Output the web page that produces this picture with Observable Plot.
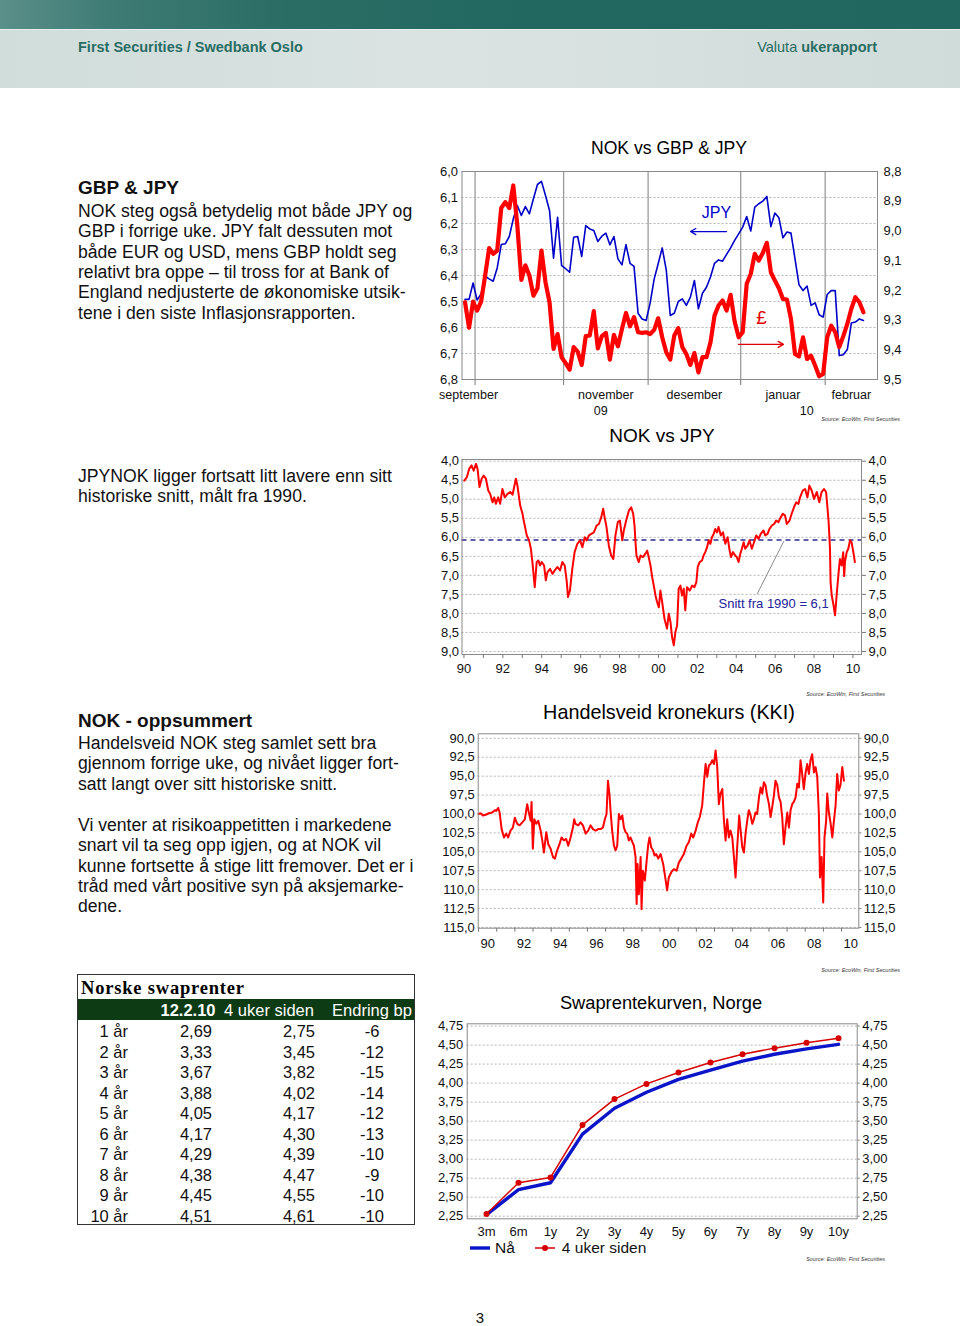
<!DOCTYPE html>
<html><head><meta charset="utf-8">
<script src="https://cdn.jsdelivr.net/npm/d3@7"></script>
<script src="https://cdn.jsdelivr.net/npm/@observablehq/plot@0.6"></script>
<style>
html,body{margin:0;padding:0}
body{width:960px;height:1326px;position:relative;background:#fff;overflow:hidden;font-family:"Liberation Sans",Arial,Helvetica,sans-serif;color:#111}
.t{position:absolute;white-space:pre}
</style></head><body>
<script>
// ---------- DATA ----------
// Chart 1: NOK vs GBP & JPY, business days 28.9.2009 - 12.2.2010
const jpyNok = [6.492,6.492,6.429,6.494,6.471,6.403,6.413,6.422,6.371,6.281,
 6.278,6.250,6.182,6.131,6.169,6.135,6.163,6.105,6.050,6.038,
 6.092,6.150,6.333,6.176,6.362,6.374,6.387,6.253,6.250,6.327,
 6.208,6.221,6.227,6.269,6.249,6.237,6.282,6.250,6.336,6.359,
 6.281,6.353,6.365,6.545,6.567,6.573,6.506,6.414,6.355,6.294,
 6.378,6.554,6.545,6.500,6.490,6.515,6.483,6.419,6.528,6.468,
 6.445,6.406,6.353,6.340,6.345,6.319,6.294,6.265,6.240,6.214,
 6.173,6.229,6.137,6.124,6.114,6.096,6.212,6.160,6.178,6.255,
 6.233,6.237,6.336,6.436,6.458,6.441,6.515,6.505,6.551,6.560,
 6.473,6.458,6.458,6.708,6.705,6.685,6.583,6.579,6.567,6.573];
const gbpNok = [9.240,9.326,9.238,9.268,9.238,9.150,9.058,9.077,9.066,8.923,
 8.903,8.923,8.847,8.982,9.165,9.116,9.150,9.218,9.193,9.066,
 9.173,9.240,9.397,9.347,9.425,9.445,9.467,9.391,9.406,9.451,
 9.354,9.352,9.270,9.395,9.354,9.343,9.433,9.350,9.388,9.330,
 9.276,9.321,9.290,9.341,9.343,9.341,9.347,9.333,9.294,9.358,
 9.408,9.433,9.352,9.327,9.391,9.414,9.451,9.411,9.476,9.425,
 9.425,9.375,9.285,9.251,9.234,9.268,9.215,9.305,9.358,9.341,
 9.178,9.145,9.077,9.100,9.074,9.040,9.139,9.167,9.193,9.229,
 9.231,9.296,9.414,9.422,9.358,9.431,9.420,9.453,9.489,9.481,
 9.358,9.319,9.341,9.391,9.354,9.313,9.262,9.223,9.240,9.274];
const leftTicks1 = [6.0,6.1,6.2,6.3,6.4,6.5,6.6,6.7,6.8];
const rightTicks1 = [8.8,8.9,9.0,9.1,9.2,9.3,9.4,9.5];
const monthNames = ["september","","november","desember","januar","februar"];
const monthBounds = [2.5,24.5,45.5,68.5,89.5];
const yearNames1 = ["09","10"];
const yearTicks1 = [33.7,84.9];

// Chart 2: NOK vs JPY (per 100 JPY) 1990-2010
const nokJpy = [[1990.02,4.51],[1990.15,4.42],[1990.27,4.20],[1990.39,4.11],[1990.50,4.25],[1990.62,4.07],[1990.70,4.20],[1990.80,4.68],[1990.91,4.46],[1991.01,4.38],[1991.13,4.46],[1991.25,4.77],[1991.35,4.86],[1991.47,5.08],[1991.56,4.95],[1991.64,5.12],[1991.76,4.95],[1991.86,5.12],[1991.98,4.73],[1992.10,4.95],[1992.24,4.86],[1992.38,4.81],[1992.50,4.88],[1992.67,4.46],[1992.75,4.64],[1992.89,5.16],[1993.01,5.38],[1993.09,5.60],[1993.23,5.95],[1993.35,6.08],[1993.44,6.30],[1993.52,6.65],[1993.64,7.31],[1993.74,6.65],[1993.83,6.61],[1993.91,6.74],[1994.00,6.65],[1994.12,6.74],[1994.21,7.13],[1994.29,6.92],[1994.43,6.83],[1994.55,6.96],[1994.67,6.87],[1994.80,6.78],[1994.94,6.87],[1995.06,6.65],[1995.18,6.74],[1995.28,7.13],[1995.35,7.57],[1995.45,7.40],[1995.57,6.83],[1995.69,6.39],[1995.83,6.17],[1995.97,6.08],[1996.09,6.26],[1996.21,6.00],[1996.31,6.08],[1996.43,5.95],[1996.55,5.91],[1996.68,5.87],[1996.82,5.69],[1996.94,5.65],[1997.06,5.47],[1997.16,5.25],[1997.23,5.47],[1997.33,5.73],[1997.45,6.22],[1997.57,6.48],[1997.68,6.57],[1997.79,5.95],[1997.91,5.60],[1998.02,5.56],[1998.14,6.08],[1998.22,5.82],[1998.34,5.56],[1998.48,5.30],[1998.60,5.21],[1998.70,5.38],[1998.77,5.69],[1998.82,6.13],[1998.87,6.48],[1998.99,6.65],[1999.08,6.48],[1999.21,6.52],[1999.33,6.43],[1999.42,6.35],[1999.50,6.52],[1999.59,6.74],[1999.68,7.05],[1999.76,7.27],[1999.85,7.53],[1999.93,7.70],[2000.02,7.84],[2000.10,7.40],[2000.19,7.70],[2000.31,8.14],[2000.44,8.40],[2000.53,8.01],[2000.62,8.23],[2000.70,8.62],[2000.79,8.84],[2000.87,8.49],[2000.96,8.32],[2001.04,7.35],[2001.13,7.27],[2001.21,7.53],[2001.30,7.35],[2001.38,7.92],[2001.47,7.31],[2001.61,7.40],[2001.73,7.27],[2001.85,7.31],[2001.95,7.18],[2002.02,6.78],[2002.12,6.65],[2002.24,6.61],[2002.32,6.48],[2002.41,6.39],[2002.50,6.26],[2002.58,6.08],[2002.67,6.17],[2002.75,6.00],[2002.84,5.91],[2002.92,5.78],[2003.01,5.87],[2003.09,5.73],[2003.21,5.95],[2003.32,5.87],[2003.44,6.17],[2003.56,6.00],[2003.66,6.35],[2003.73,6.52],[2003.83,6.39],[2003.95,6.48],[2004.03,6.52],[2004.12,6.65],[2004.21,6.43],[2004.29,6.30],[2004.38,6.13],[2004.46,6.30],[2004.58,6.22],[2004.68,6.08],[2004.80,6.30],[2004.89,6.17],[2005.03,5.95],[2005.15,6.04],[2005.26,5.91],[2005.40,5.82],[2005.49,5.95],[2005.61,5.91],[2005.71,5.78],[2005.83,5.69],[2005.95,5.65],[2006.05,5.56],[2006.17,5.60],[2006.29,5.47],[2006.39,5.38],[2006.51,5.43],[2006.60,5.65],[2006.74,5.56],[2006.85,5.38],[2006.97,5.21],[2007.08,5.08],[2007.20,5.12],[2007.28,4.95],[2007.42,4.77],[2007.54,4.73],[2007.66,4.95],[2007.76,4.64],[2007.88,4.77],[2008.00,4.99],[2008.14,4.81],[2008.27,5.08],[2008.39,4.81],[2008.51,4.73],[2008.62,4.81],[2008.68,5.16],[2008.75,5.60],[2008.82,6.30],[2008.85,7.18],[2008.91,7.53],[2008.99,7.75],[2009.08,8.05],[2009.16,7.53],[2009.25,7.00],[2009.33,6.57],[2009.42,6.74],[2009.50,6.39],[2009.55,7.02],[2009.59,6.65],[2009.68,6.39],[2009.76,6.30],[2009.85,6.08],[2009.93,6.13],[2010.02,6.39],[2010.10,6.65]];
const nokJpyAvg = 6.07;
const ticks2 = [4.0,4.5,5.0,5.5,6.0,6.5,7.0,7.5,8.0,8.5,9.0];
const years = d3.range(1990, 2011);

// Chart 3: Handelsveid kronekurs (KKI)
const kki = [[1990.00,100.0],[1990.11,99.9],[1990.24,100.2],[1990.39,100.1],[1990.57,99.9],[1990.75,99.8],[1990.90,99.5],[1990.97,99.6],[1991.08,99.2],[1991.16,99.8],[1991.27,102.0],[1991.40,103.1],[1991.52,102.6],[1991.63,103.1],[1991.76,102.2],[1991.89,101.8],[1992.00,100.5],[1992.13,101.3],[1992.26,101.5],[1992.41,101.1],[1992.55,100.7],[1992.68,98.7],[1992.77,99.8],[1992.87,100.9],[1992.92,98.4],[1992.99,104.6],[1993.07,100.7],[1993.18,101.3],[1993.29,100.9],[1993.42,102.2],[1993.51,103.5],[1993.60,105.1],[1993.73,102.4],[1993.84,104.0],[1993.97,104.6],[1994.10,105.7],[1994.21,105.9],[1994.33,104.8],[1994.46,104.0],[1994.57,103.1],[1994.70,103.5],[1994.83,103.3],[1994.94,104.2],[1995.07,103.1],[1995.20,101.8],[1995.27,100.7],[1995.34,101.3],[1995.49,101.5],[1995.62,101.1],[1995.75,101.5],[1995.90,102.6],[1996.04,102.2],[1996.17,101.5],[1996.30,102.0],[1996.45,102.2],[1996.59,102.0],[1996.72,102.0],[1996.85,101.8],[1996.96,100.7],[1997.05,100.0],[1997.13,95.6],[1997.22,97.6],[1997.27,99.5],[1997.36,102.2],[1997.46,104.2],[1997.55,104.8],[1997.64,104.2],[1997.73,100.0],[1997.82,100.7],[1997.92,100.2],[1998.01,101.8],[1998.10,102.4],[1998.19,102.6],[1998.28,103.5],[1998.37,103.1],[1998.47,103.7],[1998.56,104.2],[1998.65,105.7],[1998.71,111.9],[1998.76,106.6],[1998.83,110.6],[1998.93,105.7],[1998.98,112.6],[1999.05,107.5],[1999.16,108.8],[1999.26,106.2],[1999.35,104.0],[1999.42,103.1],[1999.51,104.4],[1999.61,104.8],[1999.70,105.5],[1999.79,105.3],[1999.90,105.9],[2000.03,105.3],[2000.17,106.6],[2000.30,108.6],[2000.39,110.1],[2000.48,108.4],[2000.62,107.7],[2000.76,107.3],[2000.91,107.5],[2001.04,106.4],[2001.17,105.9],[2001.31,105.3],[2001.46,104.2],[2001.59,103.7],[2001.72,102.6],[2001.83,103.1],[2001.96,102.2],[2002.08,101.1],[2002.19,100.4],[2002.32,98.9],[2002.42,95.8],[2002.51,93.4],[2002.60,95.1],[2002.69,93.6],[2002.78,93.4],[2002.87,92.9],[2002.97,93.4],[2003.06,91.6],[2003.15,93.8],[2003.24,98.7],[2003.33,97.3],[2003.43,96.7],[2003.52,100.9],[2003.61,103.5],[2003.70,100.7],[2003.79,103.1],[2003.88,102.2],[2003.98,103.1],[2004.07,105.7],[2004.16,108.4],[2004.25,104.4],[2004.36,100.2],[2004.44,102.2],[2004.53,104.4],[2004.62,105.1],[2004.71,102.6],[2004.80,100.9],[2004.89,99.5],[2004.99,100.2],[2005.08,101.3],[2005.17,100.7],[2005.26,99.8],[2005.35,100.0],[2005.45,97.8],[2005.54,96.5],[2005.63,97.3],[2005.72,95.8],[2005.81,96.2],[2005.90,97.6],[2006.00,98.7],[2006.09,100.4],[2006.18,99.1],[2006.27,97.6],[2006.36,95.6],[2006.46,96.2],[2006.55,97.8],[2006.64,98.4],[2006.73,100.4],[2006.82,104.0],[2006.91,101.8],[2007.01,99.8],[2007.10,101.8],[2007.19,99.5],[2007.28,98.7],[2007.37,98.4],[2007.47,97.8],[2007.56,96.0],[2007.65,96.5],[2007.74,92.9],[2007.83,94.7],[2007.92,96.7],[2008.02,94.5],[2008.11,93.4],[2008.20,94.7],[2008.29,92.9],[2008.38,92.1],[2008.48,94.5],[2008.57,93.8],[2008.66,95.1],[2008.75,100.0],[2008.81,108.4],[2008.90,105.7],[2008.99,111.7],[2009.06,103.1],[2009.15,100.9],[2009.21,97.3],[2009.30,99.8],[2009.39,101.1],[2009.49,103.1],[2009.58,100.9],[2009.67,98.9],[2009.76,94.7],[2009.85,96.9],[2009.94,96.2],[2010.04,93.8],[2010.13,95.6]];
const ticks3 = [90,92.5,95,97.5,100,102.5,105,107.5,110,112.5,115];

// Chart 4: Swaprentekurven, Norge
const swapTenors = ["3m","6m","1y","2y","3y","4y","5y","6y","7y","8y","9y","10y"];
const swapNow = [2.27,2.60,2.69,3.33,3.67,3.88,4.05,4.17,4.29,4.38,4.45,4.51];
const swap4w  = [2.28,2.69,2.76,3.45,3.79,3.99,4.14,4.27,4.38,4.46,4.53,4.59];
const ticks4 = [2.25,2.5,2.75,3.0,3.25,3.5,3.75,4.0,4.25,4.5,4.75];

// Table: Norske swaprenter
const tableHead = ["12.2.10","4 uker siden","Endring bp"];
const tableTenors = ["1 år","2 år","3 år","4 år","5 år","6 år","7 år","8 år","9 år","10 år"];
const rateNow = ["2,69","3,33","3,67","3,88","4,05","4,17","4,29","4,38","4,45","4,51"];
const rate4w  = ["2,75","3,45","3,82","4,02","4,17","4,30","4,39","4,47","4,55","4,61"];
const changeBp = ["-6","-12","-15","-14","-12","-13","-10","-9","-10","-10"];

// ---------- HELPERS ----------
const FONT = '"Liberation Sans", Arial, Helvetica, sans-serif';
const fmt = dec => d => (+d).toFixed(dec).replace(".", ",");
function T(text, css) {
  const el = document.createElement("div");
  el.className = "t";
  el.innerHTML = text;
  Object.assign(el.style, css);
  document.body.appendChild(el);
  return el;
}
function lines(arr, left, firstCenter, lh, size) {
  T(arr.join("\n"), {left: left + "px", top: (firstCenter - lh / 2) + "px", fontSize: size + "px", lineHeight: lh + "px"});
}
function place(svg, left, top) {
  svg.style.position = "absolute";
  svg.style.left = left + "px";
  svg.style.top = top + "px";
  document.body.appendChild(svg);
}
const chartStyle = {fontFamily: FONT, fontSize: "13px", color: "#111", background: "transparent", overflow: "visible"};
const gridOpts = {stroke: "#b5b5b5", strokeOpacity: 1, strokeDasharray: "2,2"};
const RED = "#ff0000";
const source = (right, cy) => T("Source: EcoWin, First Securities", {right: (960 - right) + "px", top: (cy - 4) + "px", fontSize: "5.5px", lineHeight: "8px", fontStyle: "italic", color: "#333"});

// ---------- HEADER ----------
const hb1 = document.createElement("div");
Object.assign(hb1.style, {position: "absolute", left: 0, top: 0, width: "960px", height: "29px",
  background: "linear-gradient(90deg,#5b8f89 0%,#3d7b74 12%,#2a6d65 30%,#226860 55%,#21675f 100%)"});
document.body.appendChild(hb1);
const hb2 = document.createElement("div");
Object.assign(hb2.style, {position: "absolute", left: 0, top: "29px", width: "960px", height: "58px",
  background: "linear-gradient(90deg,#d0dddb 0%,#dae3e1 45%,#d6e0de 70%,#cfdcd9 100%)", borderTop: "1px solid #e6eeec"});
document.body.appendChild(hb2);
T("First Securities / Swedbank Oslo", {left: "78px", top: "38px", fontSize: "14.5px", lineHeight: "18px", fontWeight: "bold", color: "#2a6d63"});
T('Valuta <b>ukerapport</b>', {right: "83px", top: "38px", fontSize: "14.5px", lineHeight: "18px", color: "#2a6d63"});

// ---------- LEFT TEXT ----------
T("GBP &amp; JPY", {left: "78px", top: "177px", fontSize: "19px", lineHeight: "22px", fontWeight: "bold"});
lines(["NOK steg også betydelig mot både JPY og", "GBP i forrige uke. JPY falt dessuten mot", "både EUR og USD, mens GBP holdt seg", "relativt bra oppe – til tross for at Bank of", "England nedjusterte de økonomiske utsik-", "tene i den siste Inflasjonsrapporten."], 78, 211, 20.4, 17.6);
lines(["JPYNOK ligger fortsatt litt lavere enn sitt", "historiske snitt, målt fra 1990."], 78, 476, 20.4, 17.6);
T("NOK - oppsummert", {left: "78px", top: "710px", fontSize: "19px", lineHeight: "22px", fontWeight: "bold"});
lines(["Handelsveid NOK steg samlet sett bra", "gjennom forrige uke, og nivået ligger fort-", "satt langt over sitt historiske snitt."], 78, 743, 20.4, 17.6);
lines(["Vi venter at risikoappetitten i markedene", "snart vil ta seg opp igjen, og at NOK vil", "kunne fortsette å stige litt fremover. Det er i", "tråd med vårt positive syn på aksjemarke-", "dene."], 78, 825, 20.4, 17.6);

// ---------- CHART TITLES ----------
function title(text, cx, cy, size) {
  T(text, {left: cx + "px", top: cy + "px", fontSize: size + "px", lineHeight: "24px", transform: "translate(-50%,-50%)", color: "#000"});
}
title("NOK vs GBP &amp; JPY", 669, 148, 17.6);
title("NOK vs JPY", 662, 436, 19);
title("Handelsveid kronekurs (KKI)", 669, 712, 19.8);
title("Swaprentekurven, Norge", 661, 1003, 18.3);

// ---------- CHART 1 ----------
const toLeft = g => 6.0 + (g - 8.8) * (0.8 / 0.7);
const toRight = v => 8.8 + (v - 6.0) * (0.7 / 0.8);
const dom1 = [-0.75, 102.5];
const segs = [dom1[0], ...monthBounds, dom1[1]];
const monthMid = monthNames.map((m, i) => (segs[i] + segs[i + 1]) / 2);
const c1 = Plot.plot({
  width: 520, height: 260,
  marginLeft: 61.5, marginRight: 43, marginTop: 11, marginBottom: 41,
  style: chartStyle,
  x: {domain: dom1},
  y: {domain: [6.8, 6.0]},
  marks: [
    Plot.gridY(leftTicks1, gridOpts),
    Plot.ruleX(monthBounds, {stroke: "#9a9a9a", strokeWidth: 1.3}),
    Plot.axisX(monthBounds, {tickSize: 6, tickFormat: () => "", stroke: "#777", label: null}),
    Plot.line(jpyNok, {x: (d, i) => i, y: d => d, stroke: "#0000c8", strokeWidth: 1.6}),
    Plot.line(gbpNok, {x: (d, i) => i, y: d => toLeft(d), stroke: RED, strokeWidth: 4.2, strokeLinejoin: "round"}),
    Plot.text(["JPY"], {x: 62.5, y: 6.158, fill: "#0000c8", fontSize: 16}),
    Plot.arrow([0], {x1: 64.98, x2: 56.04, y1: 6.231, y2: 6.231, stroke: "#0000c8", strokeWidth: 1.3, headLength: 7}),
    Plot.text(["£"], {x: 73.7, y: 6.565, fill: "#e00000", fontSize: 19}),
    Plot.arrow([0], {x1: 67.96, x2: 79.14, y1: 6.665, y2: 6.665, stroke: "#e00000", strokeWidth: 1.3, headLength: 7}),
    Plot.frame({stroke: "#8a8a8a"}),
    Plot.axisY(leftTicks1, {anchor: "left", tickSize: 0, tickPadding: 4, tickFormat: fmt(1), label: null}),
    Plot.axisY(rightTicks1.map(toLeft), {anchor: "right", tickSize: 0, tickPadding: 6, tickFormat: v => fmt(1)(toRight(v)), label: null}),
    Plot.text(monthNames, {x: (d, i) => monthMid[i], text: d => d, frameAnchor: "bottom", dy: 19, fontSize: 12.5}),
    Plot.text(yearNames1, {x: (d, i) => yearTicks1[i], text: d => d, frameAnchor: "bottom", dy: 35, fontSize: 12.5})
  ]
});
place(c1, 400, 160);
source(900, 419);

// ---------- CHART 2 ----------
const c2 = Plot.plot({
  width: 520, height: 230,
  marginLeft: 61.5, marginRight: 59, marginTop: 9, marginBottom: 26,
  style: chartStyle,
  x: {domain: [1989.9, 2010.44]},
  y: {domain: [9.08, 3.955]},
  marks: [
    Plot.gridY(ticks2, gridOpts),
    Plot.ruleY([nokJpyAvg], {stroke: "#2b2b90", strokeWidth: 1.6, strokeDasharray: "5,4"}),
    Plot.line(nokJpy, {x: d => d[0], y: d => d[1], stroke: RED, strokeWidth: 2}),
    Plot.link([0], {x1: 2005.08, y1: 7.485, x2: 2006.45, y2: 6.10, stroke: "#8c8c8c", strokeWidth: 1}),
    Plot.text(["Snitt fra 1990 = 6,1"], {x: 2005.92, y: 7.74, fill: "#22229a", fontSize: 13}),
    Plot.frame({stroke: "#8a8a8a"}),
    Plot.axisY(ticks2, {anchor: "left", tickSize: 0, tickPadding: 3, tickFormat: fmt(1), label: null}),
    Plot.axisY(ticks2, {anchor: "right", tickSize: 4, tickPadding: 3, tickFormat: fmt(1), label: null, stroke: "#777"}),
    Plot.axisX(years, {tickSize: 4, tickPadding: 5.4, tickFormat: d => d % 2 === 0 ? String(d).slice(2) : "", label: null, stroke: "#777"})
  ]
});
place(c2, 400, 450);
source(885, 694);

// ---------- CHART 3 ----------
const evenYears = years.filter(y => y % 2 === 0);
const c3 = Plot.plot({
  width: 520, height: 230,
  marginLeft: 77.7, marginRight: 61.7, marginTop: 8.3, marginBottom: 27.3,
  style: chartStyle,
  x: {domain: [1989.98, 2010.95]},
  y: {domain: [115.1, 89.4]},
  marks: [
    Plot.gridY(ticks3, gridOpts),
    Plot.line(kki, {x: d => d[0], y: d => d[1], stroke: RED, strokeWidth: 2}),
    Plot.frame({stroke: "#8a8a8a"}),
    Plot.axisY(ticks3, {anchor: "left", tickSize: 0, tickPadding: 3.4, tickFormat: fmt(1), label: null}),
    Plot.axisY(ticks3, {anchor: "right", tickSize: 2, tickPadding: 3, tickFormat: fmt(1), label: null, stroke: "#777"}),
    Plot.axisX(years, {tickSize: 4, tickFormat: () => "", label: null, stroke: "#777"}),
    Plot.axisX(evenYears.map(y => y + 0.5), {tickSize: 0, tickPadding: 10.7, tickFormat: d => String(Math.floor(d)).slice(2), label: null})
  ]
});
place(c3, 400, 725);
source(900, 970);

// ---------- CHART 4 ----------
const c4 = Plot.plot({
  width: 520, height: 225,
  marginLeft: 66.7, marginRight: 63.3, marginTop: 8.3, marginBottom: 21.7,
  style: chartStyle,
  x: {type: "point", domain: swapTenors, padding: 0.5},
  y: {domain: [2.216, 4.78]},
  marks: [
    Plot.gridY(ticks4, gridOpts),
    Plot.line(swapTenors, {x: d => d, y: (d, i) => swapNow[i], stroke: "#0a14c8", strokeWidth: 3.4}),
    Plot.line(swapTenors, {x: d => d, y: (d, i) => swap4w[i], stroke: "#d60000", strokeWidth: 1.5}),
    Plot.dot(swapTenors, {x: d => d, y: (d, i) => swap4w[i], fill: "#d60000", r: 3}),
    Plot.frame({stroke: "#8a8a8a"}),
    Plot.axisY(ticks4, {anchor: "left", tickSize: 0, tickPadding: 4, tickFormat: fmt(2), label: null}),
    Plot.axisY(ticks4, {anchor: "right", tickSize: 2, tickPadding: 3, tickFormat: fmt(2), label: null, stroke: "#777"}),
    Plot.axisX(swapTenors, {tickSize: 0, tickPadding: 8, label: null})
  ]
});
place(c4, 400, 1015);
source(885, 1259);

// legend for chart 4
const lg = document.createElement("div");
Object.assign(lg.style, {position: "absolute", left: "468px", top: "1237px", height: "22px", fontSize: "15.5px", lineHeight: "22px", whiteSpace: "nowrap", fontFamily: FONT});
lg.innerHTML = '<svg width="24" height="22" style="vertical-align:top"><line x1="2" x2="22" y1="11" y2="11" stroke="#0a14c8" stroke-width="3.4"/></svg>' +
  '<span style="margin-left:3px">Nå</span>' +
  '<svg width="24" height="22" style="vertical-align:top;margin-left:18px"><line x1="2" x2="22" y1="11" y2="11" stroke="#d60000" stroke-width="1.5"/><circle cx="12" cy="11" r="3" fill="#d60000"/></svg>' +
  '<span style="margin-left:5px">4 uker siden</span>';
document.body.appendChild(lg);

// ---------- TABLE ----------
const box = document.createElement("div");
Object.assign(box.style, {position: "absolute", left: "77px", top: "974px", width: "338px", height: "251px", border: "1px solid #333", boxSizing: "border-box"});
document.body.appendChild(box);
T("Norske swaprenter", {left: "81px", top: "977px", fontSize: "18.5px", lineHeight: "22px", fontWeight: "bold", letterSpacing: "0.8px", fontFamily: '"Liberation Serif","Times New Roman",serif', color: "#000"});
const band = document.createElement("div");
Object.assign(band.style, {position: "absolute", left: "78px", top: "999px", width: "336px", height: "21px", background: "#0d3b13"});
document.body.appendChild(band);
const headX = [188, 269, 372];
tableHead.forEach((h, i) => T(h, {left: headX[i] + "px", top: "1009.5px", transform: "translate(-50%,-50%)", fontSize: "16.5px", lineHeight: "20px", color: "#fff", fontWeight: i === 0 ? "bold" : "normal"}));
tableTenors.forEach((t, k) => {
  const cy = 1031 + 20.56 * k;
  const base = {top: (cy - 10) + "px", fontSize: "16.5px", lineHeight: "20px"};
  T(t, {...base, right: (960 - 128) + "px"});
  T(rateNow[k], {...base, right: (960 - 212) + "px"});
  T(rate4w[k], {...base, right: (960 - 315) + "px"});
  T(changeBp[k], {...base, left: "372px", transform: "translateX(-50%)"});
});

// page number
T("3", {left: "480px", top: "1318px", transform: "translate(-50%,-50%)", fontSize: "15px", lineHeight: "18px"});
</script>
</body></html>
